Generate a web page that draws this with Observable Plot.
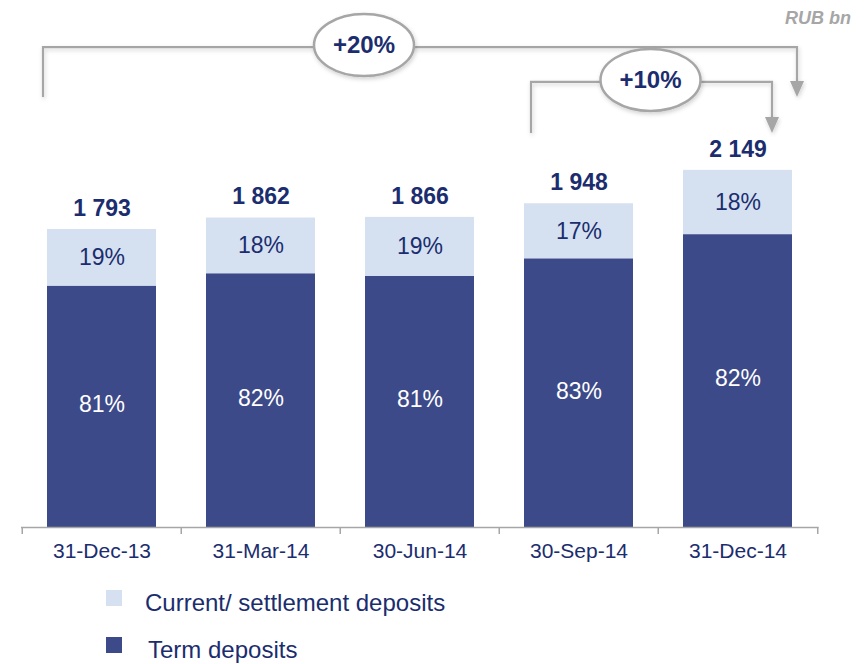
<!DOCTYPE html>
<html>
<head>
<meta charset="utf-8">
<script src="https://cdn.jsdelivr.net/npm/d3@7"></script>
<script src="https://cdn.jsdelivr.net/npm/@observablehq/plot@0.6"></script>
<style>
  html, body { margin: 0; padding: 0; background: #ffffff; }
  #wrap { width: 866px; height: 664px; position: relative; font-family: "Liberation Sans", Arial, sans-serif; }
  #legend { position: relative; height: 89px; }
  .sw { position: absolute; width: 16px; height: 16px; }
  .lt { position: absolute; font-size: 24px; line-height: 26px; color: #1B2D6E; white-space: nowrap; }
</style>
</head>
<body>
<div id="wrap">
  <div id="chart"></div>
  <div id="legend"></div>
</div>
<script>
// ---- data ----
const categories = ["31-Dec-13", "31-Mar-14", "30-Jun-14", "30-Sep-14", "31-Dec-14"];
const totals = [1793, 1862, 1866, 1948, 2149];
const termShare = [81, 82, 81, 83, 82];
const currentShare = [19, 18, 19, 17, 18];
const seriesNames = ["Term deposits", "Current/ settlement deposits"];
const legendOrder = ["Current/ settlement deposits", "Term deposits"];
const growthLabels = ["+20%", "+10%"];
const unitLabel = ["RUB bn"];

// ---- styles ----
const DARK = "#3C4A89";
const LIGHT = "#D5E1F1";
const NAVY = "#1B2D6E";
const GRAY = "#A6A6A6";
const FONT = "'Liberation Sans', Arial, sans-serif";

const rows = categories.flatMap((c, i) => [
  {cat: c, series: seriesNames[0], value: totals[i] * termShare[i] / 100, share: termShare[i]},
  {cat: c, series: seriesNames[1], value: totals[i] * currentShare[i] / 100, share: currentShare[i]}
]);
const termRows = rows.filter(d => d.series === seriesNames[0]);
const curRows = rows.filter(d => d.series === seriesNames[1]);
const termMid = termRows.map(d => d.value / 2);
const curMid = curRows.map((d, i) => termRows[i].value + d.value / 2);

const fmt = v => String(v).replace(/\B(?=(\d{3})+(?!\d))/g, " ");

const plot = Plot.plot({
  width: 866,
  height: 575,
  marginTop: 0,
  marginBottom: 48,
  marginLeft: 21,
  marginRight: 47.5,
  style: {fontFamily: FONT, background: "white", overflow: "visible"},
  x: {domain: categories, paddingInner: 0.3125, paddingOuter: 0.15625, label: null},
  y: {domain: [0, 3171], axis: null},
  color: {domain: seriesNames, range: [DARK, LIGHT]},
  marks: [
    Plot.barY(rows, {x: "cat", y: "value", fill: "series"}),
    Plot.text(termRows, {x: "cat", y: (d, i) => termMid[i], text: d => d.share + "%", dy: -2, fill: "white", fontSize: 23}),
    Plot.text(curRows, {x: "cat", y: (d, i) => curMid[i], text: d => d.share + "%", fill: NAVY, fontSize: 23}),
    Plot.text(categories, {x: d => d, y: (d, i) => totals[i], text: (d, i) => fmt(totals[i]), dy: -21, fill: NAVY, fontSize: 23, fontWeight: "bold"}),
    Plot.ruleY([0], {stroke: GRAY, strokeWidth: 1.5}),
    Plot.ruleX(categories, {x: d => d, y1: 0, y2: 0, insetBottom: -7, dx: -79.75, stroke: GRAY, strokeWidth: 1.5}),
    Plot.ruleX(categories.slice(-1), {x: d => d, y1: 0, y2: 0, insetBottom: -7, dx: 79.75, stroke: GRAY, strokeWidth: 1.5}),
    Plot.axisX({tickSize: 0, tickPadding: 16, fontSize: 21, fill: NAVY, label: null}),
    Plot.text(unitLabel, {frameAnchor: "top-right", text: d => d, dx: 32, dy: 18, lineAnchor: "middle", fill: GRAY, fontSize: 18, fontWeight: "bold", fontStyle: "italic"})
  ]
});
document.getElementById("chart").appendChild(plot);

// ---- growth brackets drawn with the plot's own scales ----
const sx = plot.scale("x");
const sy = plot.scale("y");
let band;
if (sx.apply) {
  band = c => sx.apply(c);
} else {
  const b = d3.scaleBand().domain(sx.domain).range(sx.range)
    .paddingInner(sx.paddingInner).paddingOuter(sx.paddingOuter).align(sx.align ?? 0.5);
  band = c => b(c);
}
const bw = sx.bandwidth;
const Y = v => sy.apply ? sy.apply(v) : d3.scaleLinear().domain(sy.domain).range(sy.range)(v);

const svg = d3.select(plot);
const defs = svg.append("defs");
const f = defs.append("filter").attr("id", "shadow").attr("x", "-20%").attr("y", "-20%").attr("width", "140%").attr("height", "140%");
f.append("feDropShadow").attr("dx", 1).attr("dy", 2).attr("stdDeviation", 2).attr("flood-color", "#000").attr("flood-opacity", 0.18);

const brackets = [
  {label: growthLabels[0], xl: band(categories[0]) - 4, xr: band(categories[4]) + bw + 5, top: Y(2888), bot: Y(2587), cx: band(categories[2]) - 1},
  {label: growthLabels[1], xl: band(categories[3]) + 7, xr: band(categories[4]) + bw - 20, top: Y(2678), bot: Y(2371), cx: null}
];
const g = svg.append("g");
for (const b of brackets) {
  const cx = b.cx ?? (b.xl + b.xr) / 2 - 1;
  g.append("path")
    .attr("d", `M${b.xl},${b.bot}V${b.top}H${b.xr}V${b.bot - 14}`)
    .attr("fill", "none").attr("stroke", GRAY).attr("stroke-width", 2.2).attr("filter", "url(#shadow)");
  g.append("path")
    .attr("d", `M${b.xr - 7},${b.bot - 16}L${b.xr + 7},${b.bot - 16}L${b.xr},${b.bot}Z`)
    .attr("fill", GRAY).attr("filter", "url(#shadow)");
  g.append("ellipse")
    .attr("cx", cx).attr("cy", b.top - 2).attr("rx", 50).attr("ry", 31)
    .attr("fill", "white").attr("stroke", GRAY).attr("stroke-width", 2.5).attr("filter", "url(#shadow)");
  g.append("text")
    .attr("x", cx).attr("y", b.top - 2).attr("dy", "0.35em")
    .attr("text-anchor", "middle").attr("fill", NAVY)
    .attr("font-size", 24).attr("font-weight", "bold").attr("font-family", FONT)
    .text(b.label);
}

// ---- legend ----
const color = plot.scale("color");
const legend = document.getElementById("legend");
const legendPos = [{sq: 15, tx: 15, x: 145}, {sq: 62, tx: 62, x: 148}];
legendOrder.forEach((name, i) => {
  const idx = color.domain.indexOf(name);
  const sw = document.createElement("div");
  sw.className = "sw";
  sw.style.left = "106px";
  sw.style.top = legendPos[i].sq + "px";
  sw.style.background = color.range[idx];
  legend.appendChild(sw);
  const t = document.createElement("div");
  t.className = "lt";
  t.style.left = legendPos[i].x + "px";
  t.style.top = legendPos[i].tx + "px";
  t.textContent = name;
  legend.appendChild(t);
});
</script>
</body>
</html>
